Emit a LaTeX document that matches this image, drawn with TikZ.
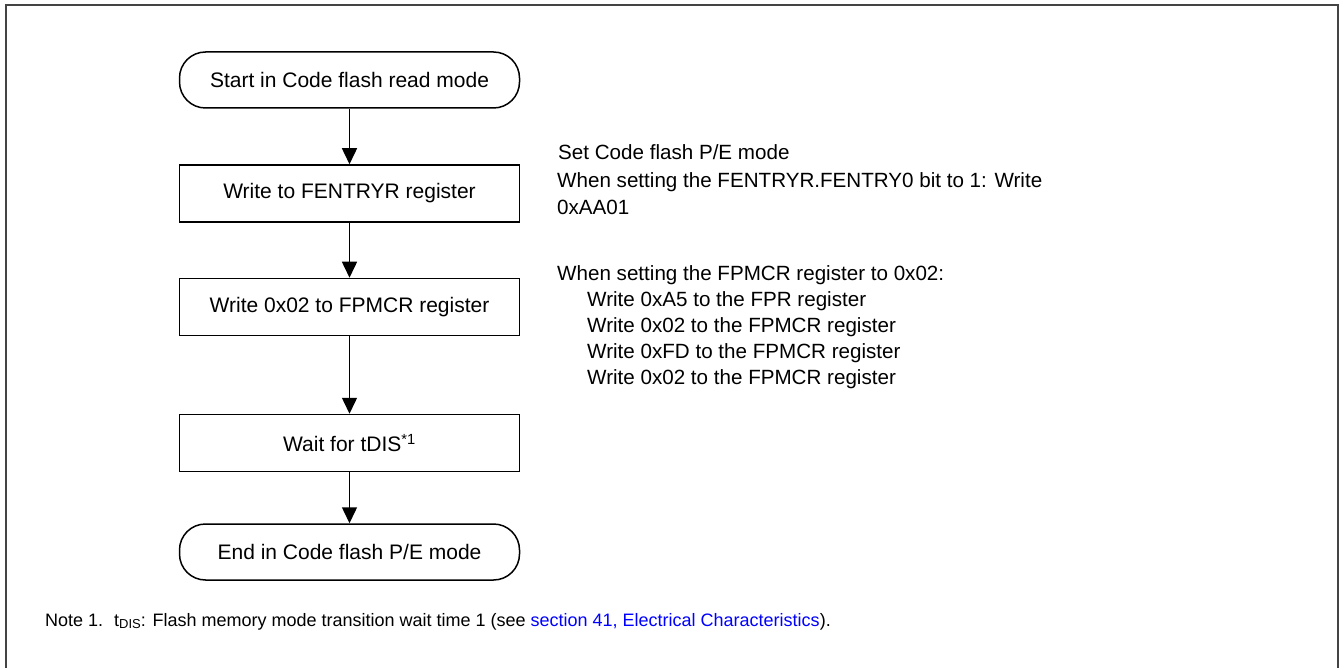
\documentclass[tikz,border=0pt]{standalone}
\usepackage{fontspec}
\setmainfont{Liberation Sans}
\usetikzlibrary{arrows.meta}
\definecolor{framec}{HTML}{444444}
\definecolor{linkc}{HTML}{0000FF}
\begin{document}
\begin{tikzpicture}[x=1pt,y=-1pt,
  box/.style={draw, line width=1.5pt, minimum width=340pt, minimum height=57pt, inner sep=0pt, font=\fontsize{21}{25}\selectfont},
  term/.style={box, rounded corners=26pt, minimum height=56pt},
  arr/.style={line width=1.5pt, -{Triangle[width=15pt,length=16pt]}},
  txt/.style={anchor=base west, inner sep=0pt, font=\fontsize{20.6}{25}\selectfont},
  note/.style={anchor=base west, inner sep=0pt, font=\fontsize{18}{22}\selectfont}]
\useasboundingbox (0,0) rectangle (1341,668);
\draw[line width=2pt, framec] (6,668) -- (6,5) -- (1338,5) -- (1338,668);

\node[term] (start) at (349.5,80) {Start in Code flash read mode};
\node[box] (fent) at (349.5,193.5) {Write to FENTRYR register};
\node[box] (fpmcr) at (349.5,307) {Write 0x02 to FPMCR register};
\node[box] (wait) at (349.5,443) {Wait for tDIS\textsuperscript{*1}};
\node[term] (endn) at (349.5,552) {End in Code flash P/E mode};

\draw[arr] (start) -- (fent);
\draw[arr] (fent) -- (fpmcr);
\draw[arr] (fpmcr) -- (wait);
\draw[arr] (wait) -- (endn);

\node[txt] (r1) at (558,159.5) {Set Code flash P/E mode};
\node[txt] (r2) at (557,187.5) {When setting the FENTRYR.FENTRY0 bit to 1: Write};
\node[txt] (r3) at (557,214.5) {0xAA01};
\node[txt] (r4) at (557,280.5) {When setting the FPMCR register to 0x02:};
\node[txt] (r5) at (587,306.5) {Write 0xA5 to the FPR register};
\node[txt] (r6) at (587,332.5) {Write 0x02 to the FPMCR register};
\node[txt] (r7) at (587,358.5) {Write 0xFD to the FPMCR register};
\node[txt] (r8) at (587,384.5) {Write 0x02 to the FPMCR register};

\node[note] (n1) at (45,626) {Note 1.};
\node[note] (n2) at (114,626) {t\raisebox{-0.25ex}{\fontsize{13}{15}\selectfont DIS}: Flash memory mode transition wait time 1 (see \textcolor{linkc}{section 41, Electrical Characteristics}).};
\end{tikzpicture}
\end{document}
